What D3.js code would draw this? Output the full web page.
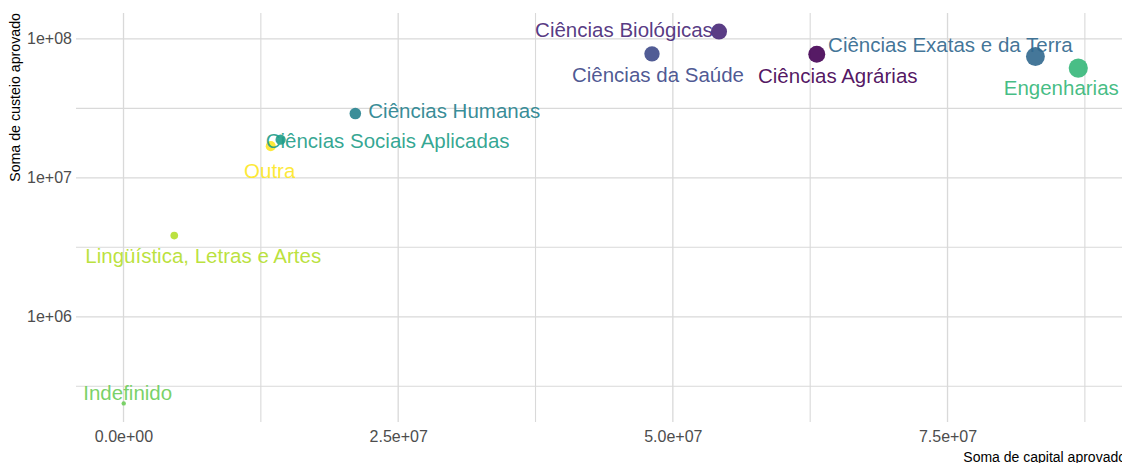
<!DOCTYPE html>
<html>
<head>
<meta charset="utf-8">
<script src="https://cdn.jsdelivr.net/npm/d3@7"></script>
<style>
  html, body { margin: 0; padding: 0; background: #fff; }
  svg { display: block; font-family: "Liberation Sans", Arial, sans-serif; }
</style>
</head>
<body>
<svg id="chart" width="1122" height="463"></svg>
<script>
// ---- data ----
const categories = [
  "Ciências Agrárias", "Ciências Biológicas", "Ciências da Saúde",
  "Ciências Exatas e da Terra", "Ciências Humanas", "Ciências Sociais Aplicadas",
  "Engenharias", "Indefinido", "Lingüística, Letras e Artes", "Outra"
];
const capital = [63.1e6, 54.2e6, 48.1e6, 83.0e6, 21.1e6, 14.3e6, 86.9e6, 0.02e6, 4.62e6, 13.4e6];
const custeio = [7.76e7, 1.128e8, 7.8e7, 7.46e7, 2.9e7, 1.88e7, 6.16e7, 2.38e5, 3.84e6, 1.69e7];
const xTicks = [0, 2.5e7, 5e7, 7.5e7];
const xTickLabels = ["0.0e+00", "2.5e+07", "5.0e+07", "7.5e+07"];
const xMinor = [1.25e7, 3.75e7, 6.25e7, 8.75e7];
const yTicks = [1e6, 1e7, 1e8];
const yTickLabels = ["1e+06", "1e+07", "1e+08"];
const yMinor = [Math.pow(10, 5.5), Math.pow(10, 6.5), Math.pow(10, 7.5)];
const xTitle = "Soma de capital aprovado";
const yTitle = "Soma de custeio aprovado";

// ---- styles / layout (not data) ----
const palette = ["#440154", "#482878", "#3E4A89", "#31688E", "#26828E",
                 "#1F9E89", "#35B779", "#6DCD59", "#B4DE2C", "#FDE725"];
// label offsets (px) relative to point centre, as placed by the repel layout
const labelDx = [21, -95, 6, -85, 99, 107, -17, 4, 29, -1];
const labelDy = [21, -1.5, 21, -12, -2.6, 0.7, 20, -11, 20, 24];

const W = 1122, H = 463;
const panel = { left: 76, right: 1126, top: 13, bottom: 422 };

const data = categories.map((c, i) => ({ cat: c, x: capital[i], y: custeio[i], i }));

const svg = d3.select("#chart");

// scales with ggplot-like 5% expansion
const xExt = d3.extent(capital);
const xPad = (xExt[1] - xExt[0]) * 0.05;
const x = d3.scaleLinear().domain([xExt[0] - xPad, xExt[1] + xPad]).range([panel.left, panel.right]);

const lyExt = d3.extent(custeio).map(Math.log10);
const lyPad = (lyExt[1] - lyExt[0]) * 0.05;
const y = d3.scaleLog()
  .domain([Math.pow(10, lyExt[0] - lyPad), Math.pow(10, lyExt[1] + lyPad)])
  .range([panel.bottom, panel.top]);

const rS = d3.scaleSqrt().domain([0, d3.max(capital)]).range([2.1, 9.6]);
const color = d3.scaleOrdinal().domain(categories).range(palette);

const g = svg.append("g");

// gridlines
const gridColor = "#d9d9d9";
g.selectAll("line.gxm").data(xMinor).enter().append("line")
  .attr("x1", d => x(d)).attr("x2", d => x(d))
  .attr("y1", panel.top).attr("y2", panel.bottom)
  .attr("stroke", gridColor).attr("stroke-width", 1.1);
g.selectAll("line.gym").data(yMinor).enter().append("line")
  .attr("y1", d => y(d)).attr("y2", d => y(d))
  .attr("x1", panel.left).attr("x2", panel.right)
  .attr("stroke", gridColor).attr("stroke-width", 1.1);
g.selectAll("line.gx").data(xTicks).enter().append("line")
  .attr("x1", d => x(d)).attr("x2", d => x(d))
  .attr("y1", panel.top).attr("y2", panel.bottom)
  .attr("stroke", gridColor).attr("stroke-width", 1.3);
g.selectAll("line.gy").data(yTicks).enter().append("line")
  .attr("y1", d => y(d)).attr("y2", d => y(d))
  .attr("x1", panel.left).attr("x2", panel.right)
  .attr("stroke", gridColor).attr("stroke-width", 1.3);

// axes
const xAxis = d3.axisBottom(x).tickValues(xTicks)
  .tickFormat((d, i) => xTickLabels[i]).tickSize(0).tickPadding(9);
const gx = svg.append("g").attr("transform", `translate(0,${panel.bottom})`).call(xAxis);
gx.select(".domain").remove();
gx.selectAll("text").attr("fill", "#4d4d4d").style("font-size", "16px")
  .style("font-family", "'Liberation Sans', Arial, sans-serif");

const yAxis = d3.axisLeft(y).tickValues(yTicks)
  .tickFormat((d, i) => yTickLabels[i]).tickSize(0).tickPadding(4);
const gy = svg.append("g").attr("transform", `translate(${panel.left},0)`).call(yAxis);
gy.select(".domain").remove();
gy.selectAll("text").attr("fill", "#4d4d4d").style("font-size", "16px")
  .style("font-family", "'Liberation Sans', Arial, sans-serif");

// axis titles
svg.append("text")
  .attr("x", panel.right).attr("y", 462)
  .attr("text-anchor", "end")
  .style("font-size", "14px").attr("fill", "#000")
  .text(xTitle);
svg.append("text")
  .attr("transform", `translate(20,${panel.top}) rotate(-90)`)
  .attr("text-anchor", "end")
  .style("font-size", "14.2px").attr("fill", "#000")
  .text(yTitle);

// points
g.selectAll("circle.pt").data(data).enter().append("circle")
  .attr("class", "pt")
  .attr("cx", d => x(d.x)).attr("cy", d => y(d.y))
  .attr("r", d => rS(d.x))
  .attr("fill", d => color(d.cat))
  .attr("fill-opacity", 0.9);

// labels
g.selectAll("text.lbl").data(data).enter().append("text")
  .attr("class", "lbl")
  .attr("x", d => x(d.x) + labelDx[d.i])
  .attr("y", d => y(d.y) + labelDy[d.i])
  .attr("dy", "0.36em")
  .attr("text-anchor", "middle")
  .style("font-size", "20.5px")
  .attr("fill", d => color(d.cat))
  .attr("fill-opacity", 0.92)
  .text(d => d.cat);
</script>
</body>
</html>
